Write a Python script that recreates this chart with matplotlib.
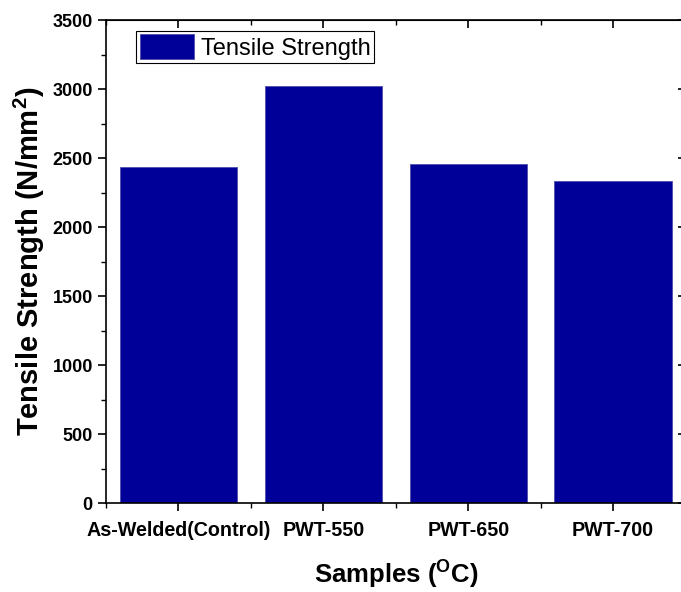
import numpy as np
import matplotlib
matplotlib.use("Agg")
import matplotlib.pyplot as plt
from matplotlib.ticker import MultipleLocator, FixedLocator

plt.rcParams['font.family'] = 'Liberation Sans'
plt.rcParams['mathtext.fontset'] = 'custom'
plt.rcParams['mathtext.rm'] = 'Liberation Sans'
plt.rcParams['mathtext.bf'] = 'Liberation Sans:bold'

samples = ["As-Welded(Control)", "PWT-550", "PWT-650", "PWT-700"]
tensile_strength = [2435, 3025, 2455, 2335]

fig = plt.figure(figsize=(6.81, 5.92), dpi=100)
ax = fig.add_axes([0.1557, 0.1503, 0.851, 0.8159])

x = np.arange(1, len(samples) + 1)
ax.bar(x, tensile_strength, width=0.81, color='#000099', edgecolor='#4d4dad',
       linewidth=0.6, label='Tensile Strength', zorder=2)

ax.set_xlim(0.5, 4.5)
ax.set_ylim(0, 3500)
ax.set_xticks(x)
ax.set_xticklabels(samples, fontsize=14.2, fontweight='bold')
ax.xaxis.set_minor_locator(FixedLocator(np.arange(0.5, 5.0, 1.0)))
ax.yaxis.set_major_locator(MultipleLocator(500))
ax.yaxis.set_minor_locator(MultipleLocator(250))
for lbl in ax.get_yticklabels():
    lbl.set_fontweight('bold')
    lbl.set_fontsize(13)

ax.tick_params(axis='x', which='major', pad=7)
ax.tick_params(which='major', direction='out', length=6, width=1.2, top=False, right=False)
ax.tick_params(which='minor', direction='out', length=3.5, width=1.0, top=False, right=False)

# inward mirrored ticks on top and right
secx = ax.secondary_xaxis('top')
secx.set_xticks(x)
secx.set_xticklabels([])
secx.xaxis.set_minor_locator(FixedLocator(np.arange(0.5, 5.0, 1.0)))
secx.tick_params(which='major', direction='in', length=6, width=1.2)
secx.tick_params(which='minor', direction='in', length=3.5, width=1.0)
secy = ax.secondary_yaxis('right')
secy.yaxis.set_major_locator(MultipleLocator(500))
secy.yaxis.set_minor_locator(MultipleLocator(250))
secy.set_yticklabels([])
secy.tick_params(which='major', direction='in', length=6, width=1.2)
secy.tick_params(which='minor', direction='in', length=3.5, width=1.0)

for s in ax.spines.values():
    s.set_linewidth(1.2)

ax.set_xlabel(r'Samples ($^\mathbf{O}$C)', fontsize=18.5, fontweight='bold', labelpad=12)
ax.set_ylabel(r'Tensile Strength (N/mm$^\mathbf{2}$)', fontsize=21, fontweight='bold', labelpad=4)

leg = ax.legend(loc='upper left', bbox_to_anchor=(0.052, 0.978), fontsize=17,
                fancybox=False, framealpha=1, edgecolor='black',
                handlelength=2.3, handleheight=1.25, handletextpad=0.3,
                borderpad=0.15, borderaxespad=0)
leg.get_frame().set_linewidth(0.8)

fig.savefig('out.png', dpi=100)
